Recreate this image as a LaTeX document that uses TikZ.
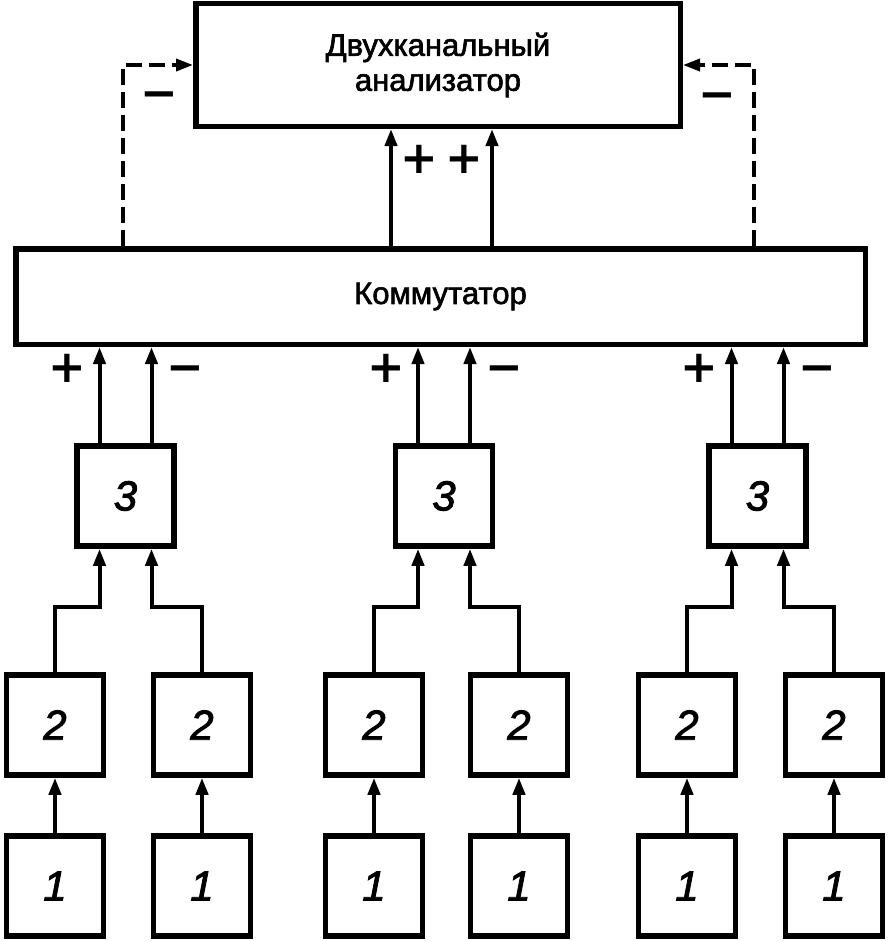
\documentclass[tikz,border=0pt]{standalone}
\usepackage{fontspec}
\setmainfont{Liberation Sans}
\newfontfamily\lblfont{Liberation Sans}[FakeBold=2]
\newfontfamily\digfont{Liberation Sans Italic}[FakeBold=2]
\newfontfamily\sgnfont{DejaVu Sans Bold}
\usetikzlibrary{arrows.meta}
\begin{document}
\begin{tikzpicture}[x=1pt,y=-1pt,
  blk/.style={draw, line width=5.5pt, inner sep=0pt, minimum width=97pt, minimum height=100pt, font=\digfont\fontsize{42}{42}\selectfont},
  bigblk/.style={draw, line width=5.5pt, inner sep=0pt, align=center, font=\lblfont\fontsize{31}{35}\selectfont},
  arr/.style={line width=4pt, -{Triangle[length=17pt,width=12pt]}},
  darr/.style={line width=3.5pt, dash pattern=on 16pt off 7pt, -{Triangle[length=17pt,width=12pt]}},
  sgn/.style={inner sep=0pt, text height=29pt, text depth=0pt, font=\sgnfont\fontsize{45}{45}\selectfont}
]
\useasboundingbox (0,0) rectangle (889,942);
\node[bigblk, minimum width=484.5pt, minimum height=122.5pt] (an) at (438,65) {Двухканальный\\анализатор};
\node[bigblk, minimum width=849.5pt, minimum height=95.5pt] (comm) at (440.5,296.5) {Коммутатор};
\coordinate (t1) at (391,0);
\coordinate (t2) at (492,0);
\coordinate (d1) at (123,0);
\coordinate (d2) at (754,0);
\draw[arr] (comm.north -| t1) -- (an.south -| t1);
\draw[arr] (comm.north -| t2) -- (an.south -| t2);
\draw[darr] (comm.north -| d1) |- (an.west);
\draw[darr] (comm.north -| d2) |- (an.east);
\node[sgn] (m1) at (159,94) {−};
\node[sgn] (m2) at (717,95) {−};
\node[sgn] (p1) at (419,159) {+};
\node[sgn] (p2) at (464,159) {+};
\foreach \n/\c/\a/\b in {L/125.5/55/202, M/444/374/519, R/757.5/687/834} {
  \node[blk] (k3\n) at (\c,496) {3};
  \node[blk] (k2a\n) at (\a,725) {2};
  \node[blk] (k2b\n) at (\b,725) {2};
  \node[blk] (k1a\n) at (\a,886) {1};
  \node[blk] (k1b\n) at (\b,886) {1};
  \coordinate (ea\n) at (\c-26,607);
  \coordinate (eb\n) at (\c+26,607);
  \draw[arr] (k1a\n) -- (k2a\n);
  \draw[arr] (k1b\n) -- (k2b\n);
  \draw[arr] (k2a\n.north) |- (ea\n) -- (k3\n.south -| ea\n);
  \draw[arr] (k2b\n.north) |- (eb\n) -- (k3\n.south -| eb\n);
  \draw[arr] (k3\n.north -| ea\n) -- (comm.south -| ea\n);
  \draw[arr] (k3\n.north -| eb\n) -- (comm.south -| eb\n);
  \node[sgn] (pl\n) at (\c-58,368) {+};
  \node[sgn] (mi\n) at (\c+60,368) {−};
}
\end{tikzpicture}
\end{document}
